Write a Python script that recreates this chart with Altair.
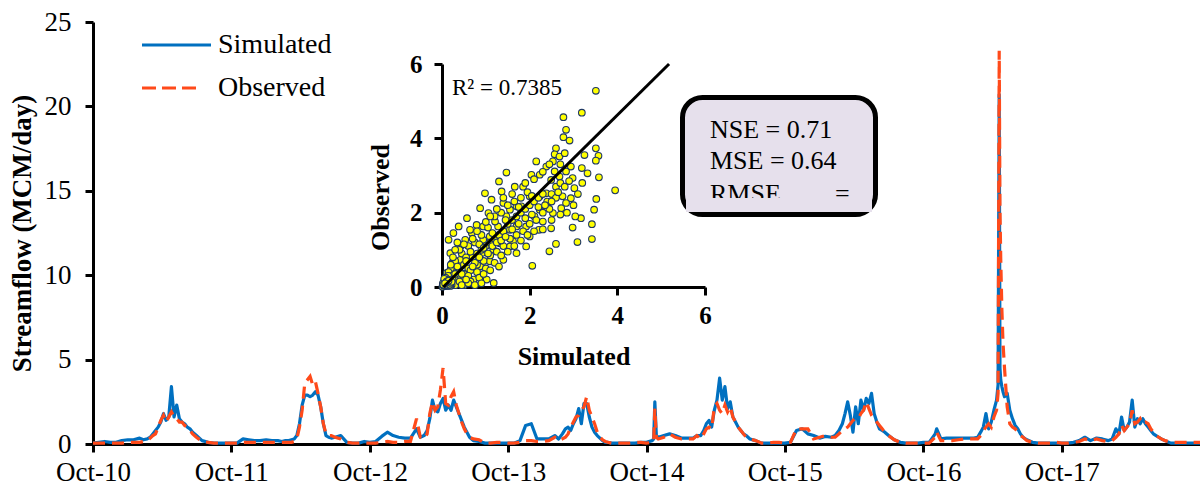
import altair as alt
import pandas as pd

# ---------------- data ----------------
# day-of-water-year sample points (Oct..Sep)
MD = ["10-01", "10-16", "11-01", "11-16", "12-01", "12-16", "01-01", "01-16", "02-01", "02-11", "02-21",
      "03-01", "03-08", "03-15", "03-22", "03-29", "04-05", "04-12", "04-19", "04-26", "05-03", "05-10",
      "05-17", "05-24", "05-31", "06-07", "06-14", "06-21", "07-01", "07-16", "08-01", "08-16", "09-01", "09-16"]

SIM = {
    2011: [0.05, 0.1, 0.15, 0.1, 0.1, 0.2, 0.25, 0.25, 0.35, 0.25, 0.3, 0.4, 0.6, 0.8, 1.0, 1.3, 1.8, 1.4, 1.6, 3.4,
           1.6, 2.3, 1.5, 1.3, 1.2, 1.0, 0.9, 0.7, 0.5, 0.2, 0.1, 0.05, 0.05, 0.05],
    2012: [0.05, 0.05, 0.3, 0.25, 0.2, 0.2, 0.25, 0.2, 0.2, 0.15, 0.2, 0.2, 0.25, 0.3, 0.5, 1.2, 2.3, 2.9, 2.9, 2.8,
           2.9, 3.1, 2.9, 2.2, 1.2, 0.5, 0.4, 0.35, 0.4, 0.5, 0.1, 0.05, 0.05, 0.15],
    2013: [0.1, 0.15, 0.45, 0.7, 0.5, 0.4, 0.35, 0.35, 0.9, 0.4, 0.5, 0.8, 1.5, 2.6, 2.0, 1.9, 2.4, 2.7, 2.0, 2.3,
           2.0, 2.6, 2.2, 1.8, 1.4, 1.0, 0.7, 0.4, 0.2, 0.15, 0.05, 0.05, 0.05, 0.05],
    2014: [0.05, 0.05, 0.2, 1.1, 1.2, 0.3, 0.3, 0.3, 0.5, 0.3, 0.6, 0.9, 1.0, 0.8, 1.2, 1.5, 2.1, 1.2, 2.4, 2.4,
           1.6, 1.0, 0.7, 0.5, 0.35, 0.2, 0.1, 0.1, 0.05, 0.05, 0.05, 0.05, 0.05, 0.1],
    2015: [0.1, 0.2, 0.4, 0.5, 0.6, 0.5, 0.35, 0.35, 0.35, 0.5, 0.5, 0.8, 1.2, 1.4, 1.0, 2.0, 2.6, 3.9, 2.6, 3.4,
           2.1, 2.5, 1.6, 1.3, 1.0, 0.8, 0.6, 0.5, 0.3, 0.2, 0.05, 0.05, 0.05, 0.05],
    2016: [0.05, 0.1, 0.8, 0.9, 0.6, 0.5, 0.35, 0.45, 0.4, 0.5, 0.8, 1.2, 1.8, 2.5, 1.7, 0.7, 2.2, 1.2, 2.6, 2.0,
           2.7, 2.4, 3.0, 1.8, 1.3, 0.9, 0.8, 0.7, 0.5, 0.25, 0.1, 0.05, 0.05, 0.05],
    2017: [0.1, 0.1, 0.6, 0.3, 0.35, 0.35, 0.35, 0.35, 0.35, 0.35, 0.4, 0.7, 1.0, 1.8, 0.9, 1.3, 2.0, 2.6, 20.7, 3.4,
           2.8, 3.0, 2.0, 1.5, 1.1, 0.9, 0.6, 0.4, 0.25, 0.1, 0.05, 0.05, 0.05, 0.05],
    2018: [0.05, 0.05, 0.1, 0.2, 0.4, 0.2, 0.35, 0.3, 0.2, 0.3, 0.9, 0.6, 1.6, 0.8, 1.0, 1.3, 2.6, 1.0, 1.5, 1.2,
           1.5, 1.2, 1.0, 0.8, 0.6, 0.5, 0.4, 0.3, 0.2, 0.05, 0.05, 0.05, 0.05, 0.05],
}

OBS = {
    2011: [0.05, 0.05, 0.05, 0.05, 0.05, 0.05, 0.1, 0.1, 0.1, 0.15, 0.2, 0.35, 0.5, 0.6, 1.0, 1.4, 1.7, 1.3, 1.6, 1.9,
           1.6, 1.5, 1.3, 1.3, 1.1, 1.0, 0.8, 0.6, 0.4, 0.15, 0.1, 0.05, 0.05, 0.05],
    2012: [0.05, 0.05, 0.1, 0.1, 0.1, 0.1, 0.1, 0.1, 0.1, 0.1, 0.1, 0.1, 0.1, 0.15, 0.3, 1.0, 2.0, 3.6, 3.8, 4.0,
           3.5, 3.7, 3.0, 2.2, 1.2, 0.6, 0.5, 0.5, 0.4, 0.3, 0.1, 0.05, 0.05, 0.05],
    2013: [0.05, 0.05, 0.1, 0.15, 0.1, 0.1, 0.15, 0.15, 1.5, 0.4, 0.3, 0.6, 1.8, 2.5, 2.0, 2.2, 3.2, 4.5, 2.4, 2.3,
           2.8, 3.1, 2.3, 1.8, 1.3, 0.9, 0.6, 0.4, 0.3, 0.25, 0.05, 0.05, 0.1, 0.1],
    2014: [0.05, 0.05, 0.1, 0.2, 0.2, 0.15, 0.15, 0.2, 0.4, 0.2, 0.3, 0.4, 0.6, 1.0, 1.3, 1.6, 1.7, 2.0, 2.2, 2.8,
           2.0, 1.6, 1.2, 0.7, 0.4, 0.25, 0.15, 0.1, 0.05, 0.05, 0.05, 0.05, 0.1, 0.1],
    2015: [0.05, 0.1, 0.3, 0.4, 0.6, 0.4, 0.3, 0.3, 0.3, 0.5, 0.3, 0.6, 0.9, 1.0, 0.9, 2.2, 2.4, 2.0, 1.8, 2.3,
           1.9, 2.2, 1.6, 1.3, 1.0, 0.8, 0.6, 0.4, 0.3, 0.2, 0.05, 0.05, 0.1, 0.1],
    2016: [0.05, 0.1, 0.9, 0.9, 0.9, 0.3, 0.4, 0.5, 0.4, 0.4, 0.6, 0.8, 0.9, 1.0, 1.2, 1.4, 1.5, 1.5, 1.8, 2.0,
           2.5, 2.1, 1.7, 1.5, 1.3, 1.1, 0.9, 0.7, 0.5, 0.25, 0.1, 0.05, 0.05, 0.05],
    2017: [0.05, 0.05, 0.4, 0.2, 0.2, 0.2, 0.25, 0.3, 0.3, 0.3, 0.3, 0.5, 0.8, 1.0, 1.2, 1.0, 1.6, 2.0, 23.3, 8.0,
           4.5, 2.2, 1.2, 1.0, 0.9, 0.7, 0.5, 0.4, 0.2, 0.1, 0.05, 0.05, 0.05, 0.1],
    2018: [0.05, 0.05, 0.1, 0.15, 0.3, 0.2, 0.3, 0.2, 0.15, 0.2, 0.4, 0.6, 1.1, 0.8, 1.0, 1.2, 2.0, 1.2, 1.3, 1.5,
           1.2, 1.3, 1.2, 0.9, 0.7, 0.5, 0.4, 0.3, 0.2, 0.1, 0.1, 0.1, 0.1, 0.1],
}

# extra days around narrow peaks
EX_DATES = ["2014-10-20", "2014-10-23", "2014-10-27", "2016-11-05", "2017-04-16",
            "2017-04-21", "2017-04-23", "2017-04-29", "2018-10-01"]
EX_SIM = [0.3, 2.5, 0.5, 0.9, 3.5, 4.5, 3.8, 3.1, 0.05]
EX_OBS = [0.15, 2.1, 0.4, 0.7, 3.0, 14.0, 11.0, 6.0, 0.1]

# inset scatter: (simulated, observed)
SCATTER = [
    (3.51, 5.28), (3.19, 4.69), (2.77, 4.57), (2.83, 4.23), (2.77, 4.03), (2.91, 3.94), (3.51, 3.73), (3.57, 3.53),
    (3.25, 3.55), (3.51, 3.40), (3.32, 3.06), (3.19, 3.20), (3.58, 2.95), (3.95, 2.60), (3.52, 2.37), (3.47, 2.08),
    (3.17, 1.85), (3.04, 1.90), (3.42, 1.69), (2.98, 1.60), (3.42, 1.29), (3.09, 1.21), (2.60, 1.16), (2.45, 0.96),
    (2.06, 0.57), (1.18, 0.11), (1.47, 3.08), (1.30, 2.84), (2.15, 3.38), (2.23, 3.02), (2.04, 3.02), (2.60, 3.73),
    (2.57, 3.57), (2.38, 3.24), (2.49, 2.88), (2.94, 3.24), (2.98, 2.93), (3.02, 2.66), (2.75, 2.44), (2.94, 2.39),
    (2.83, 2.26), (2.72, 2.12), (2.53, 1.99), (2.30, 1.76), (2.49, 1.58), (2.21, 1.54), (2.00, 1.36), (1.70, 1.63),
    (1.62, 1.23), (1.17, 1.00), (1.28, 1.63), (1.13, 2.35), (1.36, 2.57), (1.66, 2.70), (1.85, 2.70), (2.00, 2.44),
    (1.81, 2.17), (1.55, 2.08), (1.40, 2.26), (1.06, 1.99), (0.87, 2.12), (0.79, 1.67), (0.57, 1.85), (0.38, 1.63),
    (0.19, 0.91), (0.15, 1.27), (0.26, 1.45), (0.53, 1.27), (0.68, 1.45), (0.94, 1.27), (0.91, 0.91), (0.64, 0.82),
    (0.42, 0.73), (0.26, 0.47), (0.79, 0.47), (1.09, 0.69), (1.40, 0.73), (1.02, 0.20), (0.72, 0.20), (0.49, 0.29),
    (1.70, 0.91), (1.55, 1.09), (1.92, 1.09), (1.32, 1.18), (1.09, 1.36), (1.55, 1.54), (1.92, 1.63), (2.11, 1.90),
    (2.23, 2.08), (2.42, 2.26), (2.23, 2.44), (2.38, 2.52), (2.60, 2.70), (2.68, 2.97), (2.83, 3.11), (2.57, 3.11),
    (2.53, 3.38), (2.68, 3.51), (0.94, 1.63), (1.21, 1.76), (1.47, 1.90), (1.70, 2.17), (0.98, 2.52), (0.64, 1.54),
    (0.42, 1.09), (0.23, 0.64), (0.11, 0.38), (0.57, 0.38), (0.87, 0.56), (0.34, 0.20), (0.15, 0.15),
    (0.3, 0.4), (0.4, 0.5), (0.5, 0.6), (0.6, 0.5), (0.7, 0.8), (0.8, 0.9), (0.9, 1.0), (1.0, 1.1), (1.1, 1.2),
    (1.2, 1.3), (1.3, 1.4), (1.4, 1.5), (1.5, 1.7), (1.6, 1.8), (1.7, 1.9), (1.8, 2.0), (1.9, 2.1), (2.0, 2.2),
    (2.1, 2.3), (2.2, 2.4), (2.3, 2.5), (2.4, 2.3), (2.5, 2.5), (2.6, 2.4), (2.7, 2.8),
    (0.35, 0.25), (0.5, 0.35), (0.65, 0.45), (0.8, 0.6), (0.95, 0.7), (1.1, 0.85), (1.25, 0.95), (1.4, 1.1),
    (1.55, 1.3), (1.7, 1.4), (1.85, 1.5), (2.0, 1.7), (2.15, 1.8), (2.3, 2.0), (2.45, 2.1),
    (0.3, 0.7), (0.45, 0.9), (0.6, 1.1), (0.75, 1.2), (0.9, 1.4), (1.05, 1.6), (1.2, 1.9), (1.35, 2.0), (1.5, 2.2),
    (1.65, 2.3), (1.8, 2.4), (1.95, 2.55), (0.2, 0.5), (0.55, 0.8), (0.85, 1.15), (1.15, 1.45), (1.45, 1.8),
    (1.75, 2.15), (2.05, 2.45),
    (0.25, 0.3), (0.35, 0.55), (0.45, 0.35), (0.55, 0.7), (0.65, 0.95), (0.75, 0.65), (0.85, 0.8), (0.95, 1.05),
    (1.05, 0.9), (1.15, 1.1), (1.25, 1.2), (1.35, 1.25), (1.45, 1.35), (1.6, 1.55), (1.75, 1.7), (1.9, 1.85),
    (2.05, 1.95), (2.2, 2.15), (2.35, 2.2), (2.5, 2.3), (2.65, 2.55), (2.8, 2.7), (2.9, 2.85),
    (0.4, 1.0), (0.5, 1.15), (0.7, 1.3), (0.8, 1.5), (1.0, 1.75), (1.1, 1.9), (1.25, 2.1), (1.4, 2.4), (1.6, 2.5),
    (1.9, 2.8), (2.1, 2.9), (2.3, 3.1), (2.45, 3.3), (2.7, 3.3), (2.8, 3.6),
    (0.6, 0.3), (0.8, 0.4), (1.0, 0.5), (1.2, 0.65), (1.35, 0.85), (1.5, 0.95), (1.65, 1.1), (1.8, 1.25),
    (1.95, 1.4), (2.1, 1.5), (2.3, 1.55), (2.5, 1.8), (2.7, 1.95), (2.85, 2.0), (3.0, 2.2), (3.1, 2.5), (3.2, 2.8),
    (0.1, 0.25), (0.15, 0.4), (0.2, 0.6), (0.25, 0.8), (0.3, 1.0), (0.35, 1.2), (0.5, 0.05), (0.65, 0.15),
    (0.85, 0.25), (0.95, 0.35), (0.7, 0.55), (1.1, 0.45), (1.3, 0.55),
    (0.02, 0.03), (0.05, 0.05), (0.08, 0.04), (0.1, 0.1), (0.04, 0.12), (0.12, 0.06), (0.15, 0.1), (0.1, 0.18),
    (0.2, 0.15), (0.18, 0.22), (0.06, 0.2), (0.25, 0.1), (0.22, 0.3), (0.3, 0.2), (0.14, 0.3), (0.3, 0.05),
    (0.08, 0.25), (0.4, 0.15), (0.45, 0.05), (0.6, 0.1), (0.75, 0.05), (0.9, 0.1), (0.55, 0.2), (0.3, 0.35),
    (0.03, 0.08), (0.07, 0.02), (0.12, 0.14), (0.16, 0.05), (0.05, 0.15), (0.2, 0.08),
    (0.01, 0.01), (0.03, 0.05), (0.06, 0.08), (0.09, 0.07), (0.11, 0.03), (0.13, 0.11), (0.02, 0.1), (0.07, 0.13),
    (0.17, 0.13), (0.14, 0.2), (0.22, 0.06), (0.19, 0.03), (0.24, 0.2), (0.05, 0.22),
    (0.04, 0.04), (0.06, 0.06), (0.08, 0.09), (0.1, 0.05), (0.12, 0.08), (0.14, 0.04), (0.16, 0.09), (0.18, 0.06),
    (0.2, 0.11), (0.22, 0.14), (0.09, 0.12), (0.11, 0.15), (0.15, 0.17), (0.03, 0.06), (0.07, 0.1),
]

REG_SIM = [0.03, 5.18]
REG_OBS = [0.0, 6.0]

Y_TICKS = [0, 5, 10, 15, 20, 25]
INSET_TICKS = [0, 2, 4, 6]

# ---------------- tables ----------------
rows = []
for wy in SIM:
    for md, s, o in zip(MD, SIM[wy], OBS[wy]):
        yr = wy - 1 if md[:2] in ("10", "11", "12") else wy
        rows.append({"date": f"{yr}-{md}", "sim": s, "obs": o})
for d, s, o in zip(EX_DATES, EX_SIM, EX_OBS):
    rows.append({"date": d, "sim": s, "obs": o})
ts = pd.DataFrame(rows).sort_values("date").reset_index(drop=True)

scat = pd.DataFrame(SCATTER, columns=["s", "o"])
reg = pd.DataFrame({"s": REG_SIM, "o": REG_OBS})
one = pd.DataFrame({"k": [0]})

# ---------------- styles ----------------
FONT = "Liberation Serif"
BLUE = "#0070C0"
RED = "#FF4A1A"
LAV = "#E6E0EC"

W, H = 1107, 422

x_main = alt.X(
    "date:T", title="",
    scale=alt.Scale(type="utc", domain=[alt.DateTime(year=2010, month=10, date=1, utc=True),
                                        alt.DateTime(year=2018, month=10, date=1, utc=True)]),
    axis=alt.Axis(values=[alt.DateTime(year=y, month=10, date=1, utc=True) for y in range(2010, 2018)],
                  format="%b-%y", labelFont=FONT, labelFontSize=27, labelColor="black", labelPadding=7,
                  labelFlush=False, labelOverlap=False, domainColor="black", domainWidth=3,
                  tickColor="black", tickWidth=3, tickSize=8, grid=False),
)
y_scale = alt.Scale(domain=[0, 25], nice=False)
y_axis = alt.Axis(values=Y_TICKS, title="Streamflow (MCM/day)", titleFont=FONT, titleFontSize=27,
                  titleFontWeight="bold", titleColor="black", titlePadding=8,
                  labelFont=FONT, labelFontSize=27, labelColor="black", labelPadding=14,
                  domainColor="black", domainWidth=3, tickColor="black", tickWidth=3, tickSize=8, grid=False)

sim_line = alt.Chart(ts).mark_line(color=BLUE, strokeWidth=3.2, strokeJoin="round").encode(
    x=x_main, y=alt.Y("sim:Q", scale=y_scale, axis=y_axis))
obs_line = alt.Chart(ts).mark_line(color=RED, strokeWidth=3.2, strokeDash=[12, 7]).encode(
    x=x_main, y=alt.Y("obs:Q", scale=y_scale, axis=y_axis))

# legend
leg_sim = alt.Chart(one).mark_rule(color=BLUE, strokeWidth=3).encode(
    x=alt.value(49), x2=alt.value(118), y=alt.value(23))
leg_obs = alt.Chart(one).mark_rule(color=RED, strokeWidth=3, strokeDash=[14, 6]).encode(
    x=alt.value(49), x2=alt.value(106), y=alt.value(66))
leg_t1 = alt.Chart(one).mark_text(text="Simulated", font=FONT, fontSize=28, align="left",
                                  baseline="middle", color="black").encode(x=alt.value(125), y=alt.value(23))
leg_t2 = alt.Chart(one).mark_text(text="Observed", font=FONT, fontSize=28, align="left",
                                  baseline="middle", color="black").encode(x=alt.value(125), y=alt.value(66))

# statistics box
box = alt.Chart(one).mark_rect(fill=LAV, stroke="black", strokeWidth=5, cornerRadius=20).encode(
    x=alt.value(589.5), x2=alt.value(782.5), y=alt.value(75.5), y2=alt.value(192.5))
t_nse = alt.Chart(one).mark_text(text="NSE = 0.71", font=FONT, fontSize=26, align="left",
                                 baseline="alphabetic", color="black").encode(x=alt.value(617), y=alt.value(116))
t_mse = alt.Chart(one).mark_text(text="MSE = 0.64", font=FONT, fontSize=26, align="left",
                                 baseline="alphabetic", color="black").encode(x=alt.value(617), y=alt.value(147))
t_rmse = alt.Chart(one).mark_text(text="RMSE", font=FONT, fontSize=26, align="left",
                                  baseline="alphabetic", color="black").encode(x=alt.value(617), y=alt.value(180))
t_eq = alt.Chart(one).mark_text(text="=", font=FONT, fontSize=26, align="left",
                                baseline="alphabetic", color="black").encode(x=alt.value(742), y=alt.value(180))
cover = alt.Chart(one).mark_rect(fill=LAV).encode(
    x=alt.value(593), x2=alt.value(779), y=alt.value(176), y2=alt.value(190))
r2 = alt.Chart(one).mark_text(text="R² = 0.7385", font=FONT, fontSize=23, align="left",
                              baseline="middle", color="black").encode(x=alt.value(359), y=alt.value(66))

main = alt.layer(sim_line, obs_line, leg_sim, leg_obs, leg_t1, leg_t2,
                 box, t_nse, t_mse, t_rmse, t_eq, cover, r2)

# inset scatter
xs = alt.Scale(domain=[0, 6], range=[349, 612], nice=False, zero=False)
ys = alt.Scale(domain=[0, 6], range=[265, 42], nice=False, zero=False)
ix_axis = alt.Axis(orient="bottom", offset=-157, values=INSET_TICKS, format="d", title="Simulated",
                   titleFont=FONT, titleFontSize=26, titleFontWeight="bold", titleColor="black", titlePadding=15,
                   labelFont=FONT, labelFontSize=25, labelFontWeight="bold", labelColor="black", labelPadding=8,
                   labelFlush=False, domainColor="black", domainWidth=3, tickColor="black", tickWidth=3,
                   tickSize=8, grid=False)
iy_axis = alt.Axis(orient="left", offset=-349, values=INSET_TICKS, format="d", title="Observed",
                   titleFont=FONT, titleFontSize=26, titleFontWeight="bold", titleColor="black", titlePadding=16,
                   titleY=175,
                   labelFont=FONT, labelFontSize=25, labelFontWeight="bold", labelColor="black", labelPadding=12,
                   domainColor="black", domainWidth=3, tickColor="black", tickWidth=3, tickSize=8, grid=False)

pts = alt.Chart(scat).mark_circle(size=44, fill="#FFFF00", stroke="#1F3864", strokeWidth=1.1, opacity=1).encode(
    x=alt.X("s:Q", scale=xs, axis=ix_axis), y=alt.Y("o:Q", scale=ys, axis=iy_axis))
regl = alt.Chart(reg).mark_line(color="black", strokeWidth=3).encode(
    x=alt.X("s:Q", scale=xs), y=alt.Y("o:Q", scale=ys))
inset = alt.layer(pts, regl)

chart = alt.layer(main, inset).resolve_scale(x="independent", y="independent").properties(
    width=W, height=H,
    padding={"left": 93, "top": 22, "right": 0, "bottom": 47},
    autosize=alt.AutoSizeParams(type="none"),
    background="white",
).configure_view(stroke="transparent")

chart.save("out.html", embed_options={"renderer": "svg", "actions": False})
